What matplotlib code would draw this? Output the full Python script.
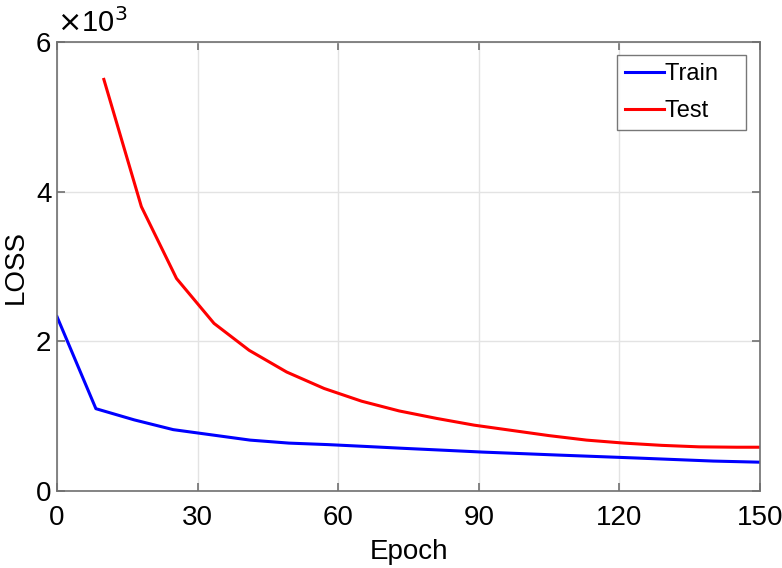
import matplotlib
matplotlib.use("Agg")
import matplotlib.pyplot as plt

train_epoch = [0, 8.3, 16.5, 24.8, 33, 41.2, 49.5, 57.8, 66, 74, 82.5, 90.8, 99, 107, 115.5, 124, 132, 140, 150]
train_loss = [2330, 1100, 950, 820, 750, 680, 640, 620, 595, 570, 545, 520, 500, 480, 460, 440, 420, 400, 385]

test_epoch = [10, 18, 25.5, 33.5, 41, 49, 57, 65, 73, 81, 89, 97, 105, 113, 121, 129, 137, 145, 150]
test_loss = [5500, 3800, 2840, 2240, 1880, 1590, 1370, 1200, 1070, 970, 880, 810, 740, 680, 640, 610, 590, 585, 585]

x_ticks = [0, 30, 60, 90, 120, 150]
y_ticks = [0, 2000, 4000, 6000]
y_ticklabels = ["0", "2", "4", "6"]

plt.rcParams['font.family'] = ['Liberation Sans', 'DejaVu Sans']
fs = 20

fig = plt.figure(figsize=(7.82, 5.68), dpi=100)
ax = fig.add_axes([57/782, 1 - 491/568, (760-57)/782, (491-42)/568])

ax.plot(train_epoch, train_loss, color='#0000ff', lw=2.2, label='Train')
ax.plot(test_epoch, test_loss, color='#ff0000', lw=2.2, label='Test')

ax.set_xlim(0, 150)
ax.set_ylim(0, 6000)
ax.set_xticks(x_ticks)
ax.set_yticks(y_ticks)
ax.set_yticklabels(y_ticklabels)
ax.grid(True, color='#e3e3e3', lw=1)
ax.set_axisbelow(True)
for s in ax.spines.values():
    s.set_color('#707070')
    s.set_linewidth(1.2)
ax.tick_params(direction='in', length=6, width=1.2, color='#707070',
               labelsize=fs, top=True, right=True)
ax.tick_params(axis='x', pad=10)
ax.tick_params(axis='y', pad=4)
ax.set_xlabel('Epoch', fontsize=fs, labelpad=6)
ax.set_ylabel('LOSS', fontsize=fs, labelpad=5)
ax.text(0.0, 1.01, r'$\times$10$^3$', transform=ax.transAxes, fontsize=fs + 1,
        ha='left', va='bottom')

handles, labels = ax.get_legend_handles_labels()
leg = ax.legend(handles, [l + '   ' for l in labels], loc='upper right',
                fontsize=17, frameon=True, fancybox=False,
                edgecolor='#555555', handlelength=1.65, handletextpad=0.05,
                borderpad=0.35, labelspacing=0.61, borderaxespad=0.5,
                bbox_to_anchor=(0.997, 0.997))
leg.get_frame().set_linewidth(1.0)

fig.savefig('out.png', dpi=100)
